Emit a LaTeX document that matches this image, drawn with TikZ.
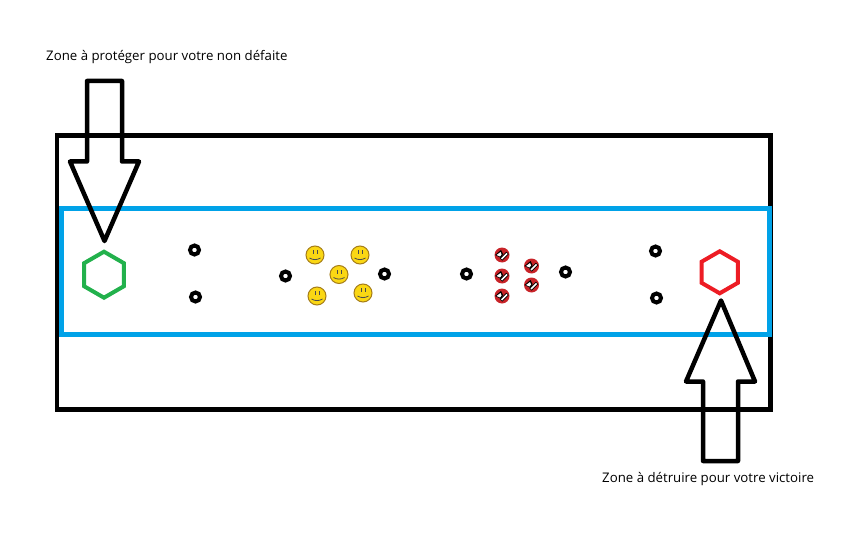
\documentclass[tikz,border=0pt]{standalone}
\usepackage{fontspec}
\setmainfont{Open Sans}
\usetikzlibrary{shapes.geometric}
\definecolor{zoneblue}{RGB}{0,162,232}
\definecolor{basegreen}{RGB}{34,177,76}
\definecolor{basered}{RGB}{237,28,36}
\definecolor{smileyfill}{RGB}{250,215,20}
\definecolor{smileyedge}{RGB}{165,125,25}
\definecolor{ballred}{RGB}{200,35,40}

\begin{document}
\begin{tikzpicture}[
  x=1pt, y=-1pt,
  frameline/.style={draw, line width=4.5pt},
  bigarrow/.style={draw, line width=4.5pt, line join=round},
  base/.style={regular polygon, regular polygon sides=6, regular polygon rotate=30, draw, line width=4pt, inner sep=0pt},
  ring/.style={circle, draw=black, line width=4pt, fill=white, minimum size=9pt, inner sep=0pt},
  smiley/.style={circle, draw=smileyedge, line width=1pt, fill=smileyfill, minimum size=18pt, inner sep=0pt},
  ball/.style={circle, fill=ballred, minimum size=15pt, inner sep=0pt},
  lbl/.style={font=\fontsize{13.25pt}{15pt}\selectfont, text=black, inner sep=0pt},
]
\useasboundingbox (0,0) rectangle (864,540);

% ---------- Terrain ----------
\draw[frameline] (57,135.5) rectangle (770.5,409.5);
\draw[frameline, draw=zoneblue, line width=5pt] (61,208.5) rectangle (769,334.5);

% ---------- Bases ----------
\node[base, draw=basegreen, minimum size=46pt] (allybase) at (104,274.7) {};
\node[base, draw=basered, minimum size=42pt] (enemybase) at (719.7,272.3) {};

% ---------- Big arrows ----------
\draw[bigarrow] (87,81) -- (122,81) -- (122,161.5) -- (139,161.5) -- (104.5,241) -- (70,161.5) -- (87,161.5) -- cycle;
\draw[bigarrow] (703,461) -- (738,461) -- (738,381.5) -- (755,381.5) -- (721,300.5) -- (686,381.5) -- (703,381.5) -- cycle;

% ---------- Towers ----------
\foreach \n/\x/\y in {t1/194.5/250, t2/195.5/297, t3/285.5/276, t4/384.5/274,
                      t5/466.5/274, t6/565.5/272, t7/655.5/251, t8/656.5/298}{
  \node[ring] (\n) at (\x,\y) {};
}

% ---------- Yellow minions ----------
\foreach \n/\x/\y in {s1/315/255, s2/360/255, s3/339/274.5, s4/317/296, s5/363/293}{
  \node[smiley] (\n) at (\x,\y) {};
  \fill[black!70] (\x-2.5,\y-5) rectangle (\x-1.7,\y-1);
  \fill[black!70] (\x+1.7,\y-5) rectangle (\x+2.5,\y-1);
  \draw[black!70, line width=.8pt] (\x-5.5,\y+3) to[bend right=30] (\x+5.5,\y+3);
}

% ---------- Red minions ----------
\foreach \n/\x/\y in {b1/502/255, b2/502/276, b3/502/296, b4/531.5/266, b5/531.5/285}{
  \node[ball] (\n) at (\x,\y) {};
  \fill[black] (\x-7,\y) -- (\x-1,\y-5) -- (\x+1,\y-1) -- (\x-1,\y+3) -- cycle;
  \fill[white] (\x-5.5,\y) -- (\x-1.5,\y-3) -- (\x-.5,\y-.5) -- (\x-2,\y+1.5) -- cycle;
  \draw[black, line width=3.2pt] (\x-1,\y+4.5) -- (\x+5.5,\y-2);
  \draw[white, line width=1.5pt] (\x-.5,\y+4) -- (\x+5,\y-1.5);
}

% ---------- Labels ----------
\node[lbl, anchor=west] (protect) at (46,57) {Zone à protéger pour votre non défaite};
\node[lbl, anchor=west] (destroy) at (602,479.5) {Zone à détruire pour votre victoire};
\end{tikzpicture}
\end{document}
